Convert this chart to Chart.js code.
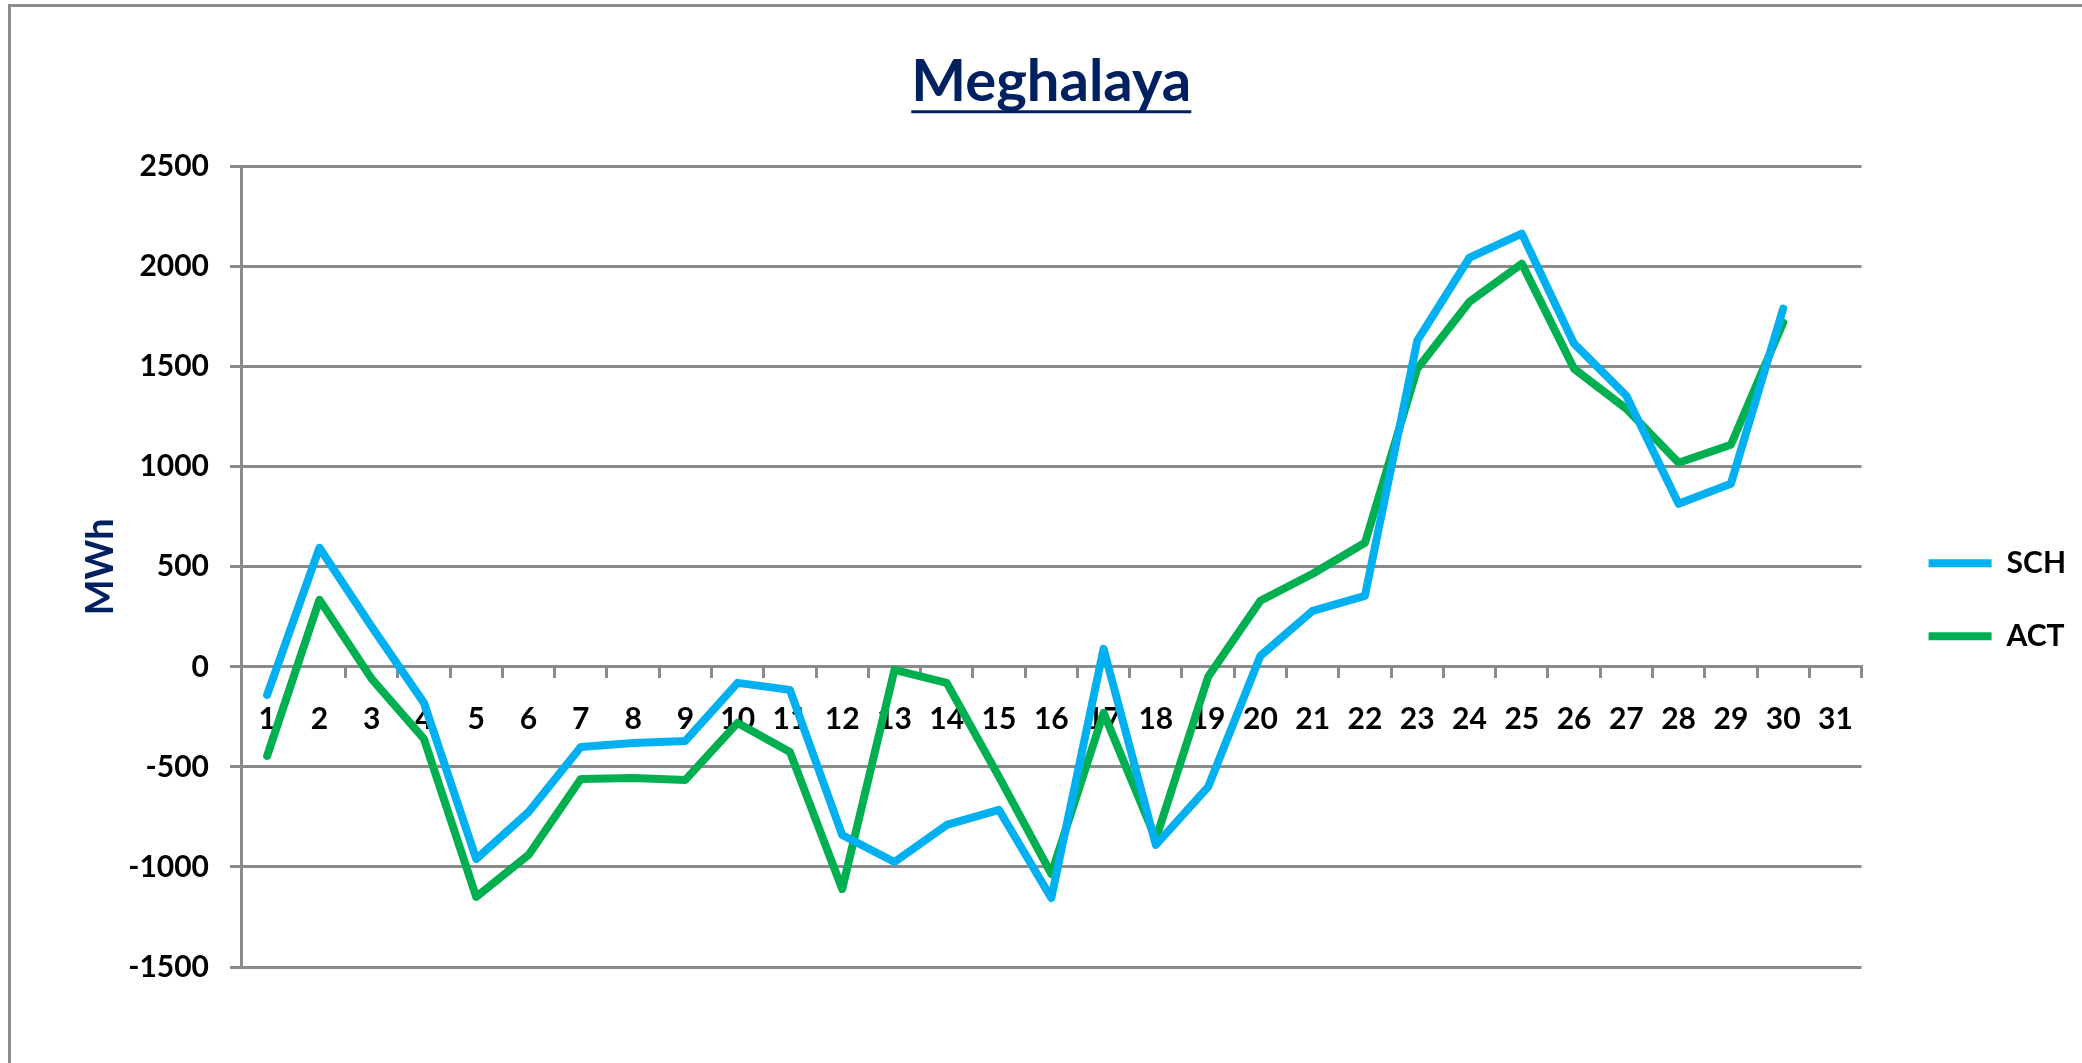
<!DOCTYPE html>
<html>
<head>
<meta charset="utf-8">
<title>Meghalaya</title>
<script src="https://cdn.jsdelivr.net/npm/chart.js@4"></script>
<style>
  html, body { margin: 0; padding: 0; background: #fff; }
  #wrap { position: relative; width: 2082px; height: 1063px; overflow: hidden; }
  #frame { position: absolute; left: 8px; top: 4px; right: -10px; bottom: -10px;
           border-top: 3px solid #8c8c8c; border-left: 3px solid #8c8c8c; }
  #chart { position: absolute; left: 0; top: 0; }
</style>
</head>
<body>
<div id="wrap">
  <div id="frame"></div>
  <canvas id="chart" width="2082" height="1063"></canvas>
</div>
<script>
/* Meghalaya — scheduled vs actual, MWh per day */

const days = Array.from({ length: 31 }, (_, i) => String(i + 1));

const schValues = [-140, 595, 200, -180, -960, -725, -400, -380, -370, -80,
                   -115, -840, -975, -790, -715, -1155, 90, -890, -600, 55,
                   280, 355, 1630, 2045, 2165, 1615, 1355, 815, 915, 1790, null];

const actValues = [-445, 335, -60, -360, -1150, -940, -560, -555, -565, -280,
                   -425, -1110, -15, -80, -550, -1035, -230, -860, -50, 330,
                   465, 620, 1490, 1825, 2015, 1490, 1290, 1020, 1110, 1720, null];

const yMin = -1500;
const yMax = 2500;
const yStep = 500;

const NAVY = "#002060";
const GRID = "#8a8a8a";

Chart.defaults.font.family = "Lato, 'Open Sans', sans-serif";

// underline under the chart title (Excel style)
const titleUnderline = {
  id: "titleUnderline",
  afterDraw(chart) {
    const tb = chart.titleBlock;
    if (!tb) return;
    const opts = chart.options.plugins.title;
    const font = Chart.helpers.toFont(opts.font);
    const ctx = chart.ctx;
    ctx.save();
    ctx.font = font.string;
    const w = ctx.measureText(opts.text).width;
    const cx = (tb.left + tb.right) / 2;
    const cy = tb.top + Chart.helpers.toPadding(opts.padding).top + font.lineHeight / 2;
    ctx.strokeStyle = opts.color;
    ctx.lineWidth = 3;
    ctx.beginPath();
    ctx.moveTo(cx - w / 2, cy + 30);
    ctx.lineTo(cx + w / 2, cy + 30);
    ctx.stroke();
    ctx.restore();
  }
};

const ctx = document.getElementById("chart").getContext("2d");
new Chart(ctx, {
  type: "line",
  data: {
    labels: days,
    datasets: [
      { label: "SCH", data: schValues, borderColor: "#00b0f0", backgroundColor: "#00b0f0",
        borderWidth: 8, pointRadius: 0, tension: 0, borderCapStyle: "round", borderJoinStyle: "round" },
      { label: "ACT", data: actValues, borderColor: "#00b050", backgroundColor: "#00b050",
        borderWidth: 8, pointRadius: 0, tension: 0, borderCapStyle: "round", borderJoinStyle: "round" },
    ],
  },
  options: {
    responsive: false,
    animation: false,
    layout: { padding: { left: 0, top: 0, right: 6, bottom: 96 } },
    plugins: {
      title: {
        display: true, text: "Meghalaya", color: NAVY, fullSize: false,
        font: { size: 58, weight: "bold" },
        padding: { top: 47, bottom: 50 },
      },
      legend: {
        position: "right", fullSize: false,
        title: { display: true, text: "", font: { size: 10 }, padding: { top: 54, bottom: 0 } },
        labels: {
          usePointStyle: true, pointStyle: "line", pointStyleWidth: 63,
          color: "#000", font: { size: 30, weight: "bold" }, padding: 43,
        },
      },
      tooltip: { enabled: false },
    },
    scales: {
      x: {
        type: "category",
        position: { y: 0 },
        offset: true,
        grid: { display: true, drawOnChartArea: false, drawTicks: true, tickLength: 10,
                offset: true, color: GRID, lineWidth: 3 },
        border: { display: true, color: GRID, width: 3 },
        ticks: { color: "#000", font: { size: 30, weight: "bold" }, padding: 24,
                 maxRotation: 0, autoSkip: false },
      },
      y: {
        position: "left",
        min: yMin, max: yMax,
        ticks: { stepSize: yStep, color: "#000", font: { size: 30, weight: "bold" }, padding: 21,
                 callback: v => String(v) },
        grid: { color: GRID, lineWidth: 3, tickLength: 11 },
        border: { display: true, color: GRID, width: 3 },
        title: { display: true, text: "MWh", color: NAVY, font: { size: 38, weight: "bold" },
                 padding: { top: 78, bottom: 0 } },
        afterFit: s => { s.width = 241; },
      },
      // empty spacer between plot and legend
      gap: {
        position: "right",
        ticks: { display: false },
        grid: { display: false },
        border: { display: false },
        afterFit: s => { s.width = 24; },
      },
    },
  },
  plugins: [titleUnderline],
});
</script>
</body>
</html>
